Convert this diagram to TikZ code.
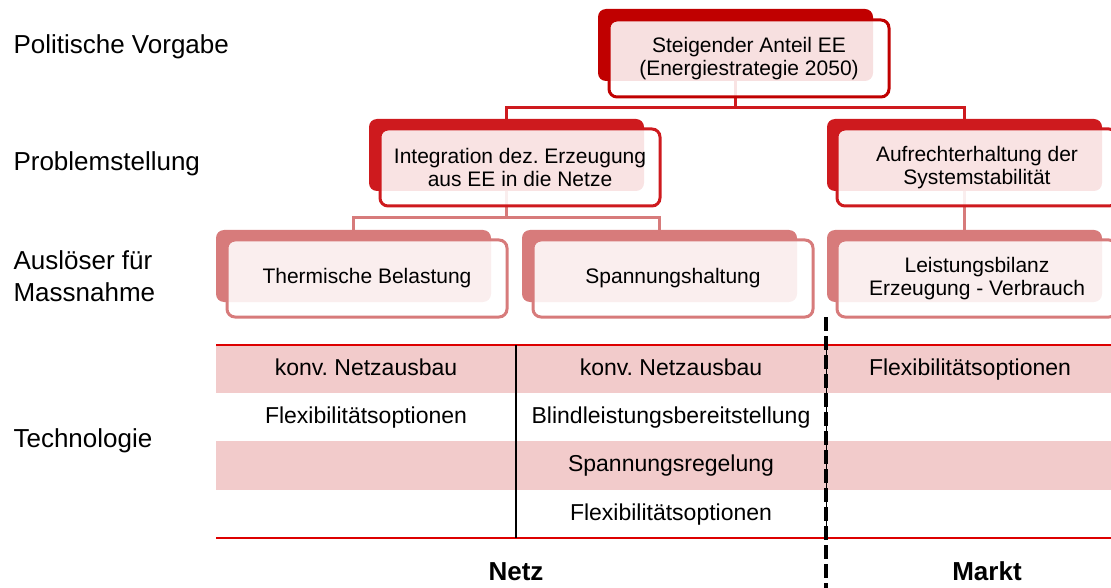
\documentclass[tikz,border=0pt]{standalone}
\usepackage{fontspec}
\setmainfont{Liberation Sans}
\usepackage{xcolor}
\definecolor{darkred}{HTML}{C00000}
\definecolor{midred}{HTML}{CE1A1E}
\definecolor{lightred}{HTML}{D77B7B}
\definecolor{rowpink}{HTML}{F2CBCB}
\definecolor{linered}{HTML}{DD0000}
\usetikzlibrary{positioning}
\frenchspacing

\begin{document}
\begin{tikzpicture}[x=1pt, y=-1pt, line cap=butt, font=\fontsize{21}{23}\selectfont]
   \tikzstyle{backbox}=[rectangle, rounded corners=8pt, draw=none, minimum width=275pt, minimum height=72pt, inner sep=0pt, outer sep=0pt, anchor=north west]
   \tikzstyle{frontbox}=[rectangle, rounded corners=8pt, fill=white, fill opacity=.88, text opacity=1, line width=3pt, minimum width=280pt, minimum height=77pt, inner sep=0pt, outer sep=0pt, align=center]
   \tikzstyle{rowname}=[anchor=west, align=left, font=\fontsize{26}{32}\selectfont]
   \tikzstyle{cell}=[font=\fontsize{23}{26}\selectfont, text height=17pt, text depth=5pt]
   \tikzstyle{side}=[font=\fontsize{26}{28}\selectfont\bfseries, text height=19pt, text depth=1pt]
   \tikzstyle{link}=[line width=3pt]

   \useasboundingbox (0,0) rectangle (1111,588);

   % row names
   \node[rowname] (vorgabe) at (10,47) {Politische Vorgabe};
   \node[rowname] (problem) at (10,164) {Problemstellung};
   \node[rowname] (ausloeser) at (10,276) {Auslöser für\\Massnahme};
   \node[rowname] (technologie) at (10,441) {Technologie};

   % back boxes
   \node[backbox, fill=darkred] (b1) at (598,9) {};
   \node[backbox, fill=midred] (b2a) at (369,119) {};
   \node[backbox, fill=midred] (b2b) at (827,119) {};
   \node[backbox, fill=lightred] (b3a) at (216,230) {};
   \node[backbox, fill=lightred] (b3b) at (522,230) {};
   \node[backbox, fill=lightred] (b3c) at (827,230) {};

   % connectors
   \draw[link, midred] (b1.south) -- ++(0,27) -| (b2a.north);
   \draw[link, midred] (b1.south) ++(0,27) -| (b2b.north);
   \draw[link, lightred] (b2a.south) -- ++(0,27) -| (b3a.north);
   \draw[link, lightred] (b2a.south) ++(0,27) -| (b3b.north);
   \draw[link, lightred] (b2b.south) -- (b3c.north);

   % front boxes
   \node[frontbox, draw=darkred, below right=11pt and 11pt of b1.north west] (f1) {Steigender Anteil EE\\(Energiestrategie 2050)};
   \node[frontbox, draw=midred, below right=10pt and 11pt of b2a.north west] (f2a) {Integration dez. Erzeugung\\aus EE in die Netze};
   \node[frontbox, draw=midred, below right=10pt and 10pt of b2b.north west] (f2b) {Aufrechterhaltung der\\Systemstabilität};
   \node[frontbox, draw=lightred, below right=10pt and 11pt of b3a.north west] (f3a) {Thermische Belastung};
   \node[frontbox, draw=lightred, below right=10pt and 11pt of b3b.north west] (f3b) {Spannungshaltung};
   \node[frontbox, draw=lightred, below right=10pt and 10pt of b3c.north west] (f3c) {Leistungsbilanz\\Erzeugung - Verbrauch};

   % table
   \fill[rowpink] (216,345) rectangle (1111,393);
   \fill[rowpink] (216,441) rectangle (1111,490);
   \draw[linered, line width=2pt] (216,345) -- (1111,345);
   \draw[linered, line width=2pt] (216,538) -- (1111,538);
   \draw[line width=1.3pt] (516,345) -- (516,538);
   \draw[line width=1pt] (826,345) -- (826,538);
   \draw[line width=4.5pt, dash pattern=on 14pt off 5pt] (826,317) -- (826,588);

   \node[cell] (c11) at (366,369) {konv. Netzausbau};
   \node[cell] (c12) at (671,369) {konv. Netzausbau};
   \node[cell] (c13) at (970,369) {Flexibilitätsoptionen};
   \node[cell] (c21) at (366,417) {Flexibilitätsoptionen};
   \node[cell] (c22) at (671,417) {Blindleistungsbereitstellung};
   \node[cell] (c32) at (671,465) {Spannungsregelung};
   \node[cell] (c42) at (671,514) {Flexibilitätsoptionen};

   \node[side] (netz) at (516,571) {Netz};
   \node[side] (markt) at (987,571) {Markt};
\end{tikzpicture}
\end{document}
